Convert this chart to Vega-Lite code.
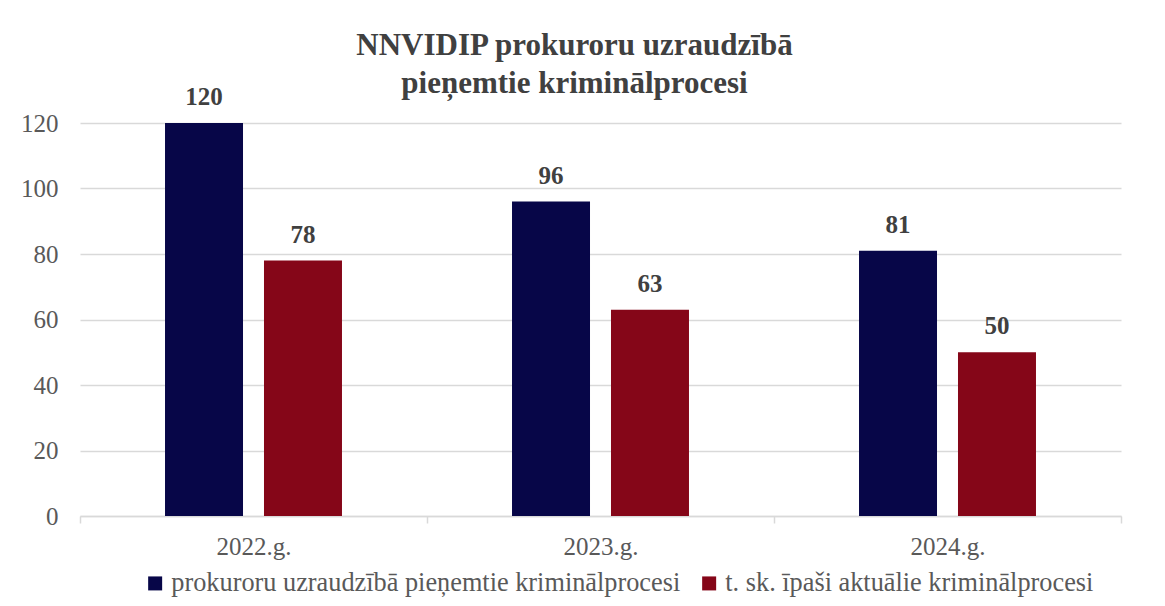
{
  "$schema": "https://vega.github.io/schema/vega-lite/v6.json",
  "width": 1041,
  "height": 393,
  "autosize": {"type": "none"},
  "padding": {"left": 80, "top": 123, "right": 44, "bottom": 90},
  "background": "white",
  "title": {
    "text": ["NNVIDIP prokuroru uzraudzībā", "pieņemtie kriminālprocesi"],
    "font": "Liberation Serif",
    "fontSize": 31,
    "fontWeight": "bold",
    "color": "#404040",
    "anchor": "middle",
    "frame": "group",
    "dx": -26,
    "dy": 37,
    "lineHeight": 38,
    "offset": 22
  },
  "data": {
    "values": [
      {"year": "2022.g.", "series": "prokuroru uzraudzībā pieņemtie kriminālprocesi", "value": 120},
      {"year": "2022.g.", "series": "t. sk. īpaši aktuālie kriminālprocesi", "value": 78},
      {"year": "2023.g.", "series": "prokuroru uzraudzībā pieņemtie kriminālprocesi", "value": 96},
      {"year": "2023.g.", "series": "t. sk. īpaši aktuālie kriminālprocesi", "value": 63},
      {"year": "2024.g.", "series": "prokuroru uzraudzībā pieņemtie kriminālprocesi", "value": 81},
      {"year": "2024.g.", "series": "t. sk. īpaši aktuālie kriminālprocesi", "value": 50}
    ]
  },
  "encoding": {
    "x": {
      "field": "year",
      "type": "nominal",
      "sort": null,
      "scale": {"paddingInner": 0, "paddingOuter": 0},
      "axis": {
        "title": null,
        "labelAngle": 0,
        "tickBand": "extent",
        "grid": false,
        "domainColor": "#d9d9d9",
        "domainWidth": 1.5,
        "tickColor": "#d9d9d9",
        "tickWidth": 1.5,
        "tickSize": 7,
        "labelFontSize": 25,
        "labelColor": "#595959",
        "labelPadding": 11
      }
    },
    "xOffset": {
      "field": "series",
      "type": "nominal",
      "sort": ["prokuroru uzraudzībā pieņemtie kriminālprocesi", "t. sk. īpaši aktuālie kriminālprocesi"],
      "scale": {"paddingInner": 0.212, "paddingOuter": 0.859}
    },
    "y": {
      "field": "value",
      "type": "quantitative",
      "scale": {"domain": [0, 120], "nice": false},
      "axis": {
        "title": null,
        "values": [0, 20, 40, 60, 80, 100, 120],
        "domain": false,
        "ticks": false,
        "grid": true,
        "gridColor": "#d9d9d9",
        "gridWidth": 1.5,
        "labelFontSize": 25,
        "labelColor": "#595959",
        "labelPadding": 22
      }
    }
  },
  "layer": [
    {
      "mark": {"type": "bar"},
      "encoding": {
        "color": {
          "field": "series",
          "type": "nominal",
          "scale": {
            "domain": ["prokuroru uzraudzībā pieņemtie kriminālprocesi", "t. sk. īpaši aktuālie kriminālprocesi"],
            "range": ["#070648", "#850618"]
          },
          "legend": {
            "title": null,
            "orient": "none",
            "legendX": 62,
            "legendY": 447,
            "direction": "horizontal",
            "symbolType": "square",
            "symbolSize": 196,
            "symbolStrokeWidth": 0,
            "labelFontSize": 26.3,
            "labelColor": "#595959",
            "labelOffset": 3,
            "columnPadding": 15,
            "labelLimit": 800
          }
        }
      }
    },
    {
      "mark": {
        "type": "text",
        "baseline": "alphabetic",
        "dy": -18,
        "fontSize": 25,
        "fontWeight": "bold",
        "color": "#404040"
      },
      "encoding": {"text": {"field": "value", "type": "quantitative"}}
    }
  ],
  "config": {
    "font": "Liberation Serif",
    "view": {"stroke": null},
    "axis": {"labelFont": "Liberation Serif"},
    "legend": {"labelFont": "Liberation Serif"},
    "text": {"font": "Liberation Serif"}
  }
}
